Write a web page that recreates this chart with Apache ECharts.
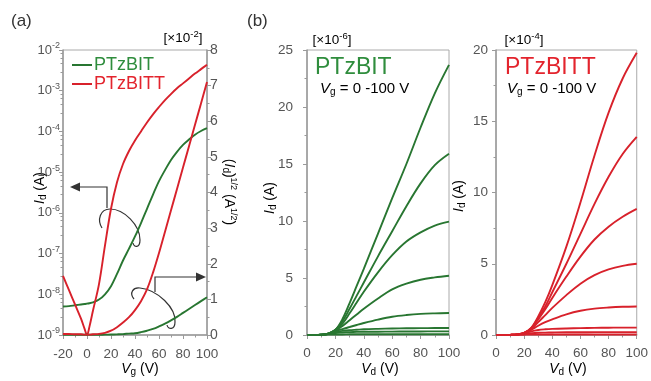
<!DOCTYPE html>
<html><head><meta charset="utf-8">
<script src="https://cdn.jsdelivr.net/npm/echarts@6/dist/echarts.min.js"></script>
<style>html,body{margin:0;padding:0;background:#fff}#c{width:651px;height:381px}</style>
</head><body><div id="c"></div>
<script>
// ---------- data ----------
// Panel (a): transfer curves, Vg in V
const vgA = [-20,-15,-10,-5,-2,0,2,5,10,15,20,25,30,35,40,45,50,55,60,65,70,75,80,85,90,95,100];
// log10(Id) for left (log) axis
const greenLogA = [-8.3,-8.29,-8.27,-8.25,-8.24,-8.23,-8.22,-8.2,-8.13,-8.0,-7.8,-7.5,-7.17,-6.88,-6.58,-6.25,-5.9,-5.55,-5.22,-4.95,-4.7,-4.5,-4.33,-4.2,-4.08,-3.99,-3.92];
const redLogA   = [-7.55,-7.9,-8.25,-8.6,-8.85,-9.0,-8.8,-8.4,-7.75,-6.8,-5.9,-5.25,-4.8,-4.48,-4.22,-4.0,-3.78,-3.58,-3.4,-3.23,-3.08,-2.94,-2.82,-2.7,-2.58,-2.47,-2.36];
// (Id)^1/2 in units of 1e-2 A^1/2 for right axis
const greenSqrtA = [0.005,0.005,0.005,0.005,0.005,0.005,0.005,0.005,0.005,0.01,0.012,0.018,0.026,0.04,0.05,0.08,0.12,0.17,0.24,0.32,0.41,0.51,0.62,0.73,0.84,0.95,1.06];
const redSqrtA   = [0.03,0.03,0.02,0.02,0.01,0.01,0.01,0.02,0.03,0.06,0.12,0.22,0.35,0.5,0.7,0.95,1.28,1.75,2.3,2.9,3.5,4.1,4.7,5.3,5.9,6.5,7.1];
const logTicksA = [-9,-8,-7,-6,-5,-4,-3,-2];

// Panels (b),(c): output curves, Vd in V
const vd = [0,5,10,15,20,25,30,35,40,50,60,70,80,90,100];
// PTzBIT, Id in 1e-6 A
const bitCurves = [
  [0,0,0.02,0.12,0.45,1.4,2.8,4.3,5.8,8.9,12.0,15.0,18.2,21.2,23.7],
  [0,0,0.02,0.12,0.45,1.2,2.3,3.45,4.6,6.9,9.1,11.3,13.3,14.9,15.9],
  [0,0,0.02,0.12,0.45,1.0,1.9,2.85,3.8,5.5,7.0,8.2,9.0,9.6,9.95],
  [0,0,0.02,0.12,0.42,0.8,1.3,1.8,2.3,3.2,4.0,4.5,4.85,5.05,5.2],
  [0,0,0.02,0.11,0.36,0.52,0.7,0.88,1.05,1.35,1.6,1.75,1.85,1.9,1.93],
  [0,0,0.02,0.1,0.28,0.36,0.42,0.46,0.5,0.54,0.57,0.59,0.6,0.61,0.62],
  [0,0,0.02,0.08,0.18,0.22,0.25,0.27,0.28,0.29,0.3,0.31,0.31,0.32,0.32],
  [0,0,0.01,0.03,0.05,0.05,0.06,0.06,0.06,0.06,0.07,0.07,0.07,0.07,0.07]
];
// PTzBITT, Id in 1e-4 A
const bittCurves = [
  [0,0,0.01,0.04,0.15,0.5,1.3,2.3,3.5,6.2,9.3,12.6,15.6,18.0,19.8],
  [0,0,0.01,0.04,0.15,0.48,1.2,2.0,3.0,5.0,7.1,9.2,11.1,12.7,13.9],
  [0,0,0.01,0.04,0.15,0.46,1.1,1.8,2.6,4.1,5.5,6.7,7.6,8.3,8.85],
  [0,0,0.01,0.04,0.14,0.42,0.9,1.4,1.9,2.8,3.6,4.2,4.6,4.85,5.0],
  [0,0,0.01,0.04,0.13,0.36,0.65,0.9,1.1,1.45,1.7,1.85,1.93,1.98,2.0],
  [0,0,0.01,0.03,0.1,0.25,0.35,0.4,0.43,0.46,0.48,0.5,0.51,0.52,0.52],
  [0,0,0.01,0.02,0.06,0.12,0.16,0.17,0.18,0.19,0.19,0.2,0.2,0.2,0.2],
  [0,0,0,0.01,0.02,0.03,0.03,0.03,0.03,0.03,0.03,0.03,0.03,0.03,0.03]
];

// ---------- styles ----------
const FONT = '"Liberation Sans", Arial, sans-serif';
const GREEN = '#2f8d3d', RED = '#e3242d';
const GREEN_L = '#287631', RED_L = '#d8212b';
const AX = '#9a9a9a', LBL = '#555';

function axisBase(extra) {
  return Object.assign({
    axisLine: {show: true, onZero: false, lineStyle: {color: AX, width: 1.5}},
    axisTick: {show: true, length: 4, lineStyle: {color: AX}},
    minorTick: {show: true, splitNumber: 2, length: 2.5, lineStyle: {color: AX}},
    splitLine: {show: false},
    axisLabel: {color: LBL, fontSize: 13, fontFamily: FONT}
  }, extra);
}

const chart = echarts.init(document.getElementById('c'), null, {renderer: 'canvas'});

const grids = [
  {left: 63, top: 50, width: 144, height: 285, show: true, borderColor: '#aaa', borderWidth: 1},
  {left: 307, top: 50, width: 142, height: 285, show: true, borderColor: '#aaa', borderWidth: 1},
  {left: 496, top: 50, width: 145, height: 285, show: true, borderColor: '#aaa', borderWidth: 1}
];

const xAxes = [
  axisBase({type: 'value', gridIndex: 0, min: -20, max: 100, interval: 20,
    axisLabel: {color: LBL, fontSize: 13.5, fontFamily: FONT, margin: 12}}),
  axisBase({type: 'value', gridIndex: 1, min: 0, max: 100, interval: 20,
    axisLabel: {color: LBL, fontSize: 13.5, fontFamily: FONT, margin: 11}}),
  axisBase({type: 'value', gridIndex: 2, min: 0, max: 100, interval: 20,
    axisLabel: {color: LBL, fontSize: 13.5, fontFamily: FONT, margin: 11}})
];

const supRich = {
  b: {fontSize: 13, color: LBL, fontFamily: FONT},
  s: {fontSize: 9, color: LBL, fontFamily: FONT, padding: [0, 0, 8, 0]}
};

const yAxes = [
  axisBase({type: 'log', gridIndex: 0, position: 'left', logBase: 10,
    min: Math.pow(10, logTicksA[0]), max: Math.pow(10, logTicksA[logTicksA.length - 1]), interval: 1,
    minorTick: {show: true, splitNumber: 5, length: 2.5, lineStyle: {color: AX}},
    axisLabel: {margin: 3, formatter: v => '{b|10}{s|' + Math.round(Math.log10(v)) + '}', rich: supRich}}),
  axisBase({type: 'value', gridIndex: 0, position: 'right', min: 0, max: 8, interval: 1,
    axisLabel: {color: LBL, fontSize: 14, fontFamily: FONT, margin: 3}}),
  axisBase({type: 'value', gridIndex: 1, min: 0, max: 25, interval: 5,
    axisLabel: {color: LBL, fontSize: 13.5, fontFamily: FONT, margin: 14}}),
  axisBase({type: 'value', gridIndex: 2, min: 0, max: 20, interval: 5,
    axisLabel: {color: LBL, fontSize: 13.5, fontFamily: FONT, margin: 8}})
];

function lineSeries(name, xi, yi, xs, ys, color, width, transform) {
  return {
    type: 'line', name: name, xAxisIndex: xi, yAxisIndex: yi,
    data: xs.map((x, i) => [x, transform ? transform(ys[i]) : ys[i]]),
    showSymbol: false, smooth: 0.35, silent: true,
    lineStyle: {color: color, width: width}, itemStyle: {color: color}
  };
}

const series = [
  lineSeries('PTzBIT', 0, 0, vgA, greenLogA, GREEN_L, 1.9, e => Math.pow(10, e)),
  lineSeries('PTzBITT', 0, 0, vgA, redLogA, RED_L, 1.9, e => Math.pow(10, e)),
  lineSeries('PTzBIT', 0, 1, vgA, greenSqrtA, GREEN_L, 1.9),
  lineSeries('PTzBITT', 0, 1, vgA, redSqrtA, RED_L, 1.9)
];
bitCurves.forEach((c, k) => series.push(lineSeries('bit' + k, 1, 2, vd, c, GREEN_L, 1.9)));
bittCurves.forEach((c, k) => series.push(lineSeries('bitt' + k, 2, 3, vd, c, RED_L, 1.9)));

const T = (extra) => Object.assign({type: 'text', silent: true}, extra);
const nameRich = {
  i: {fontSize: 14, fontStyle: 'italic', color: '#444', fontFamily: FONT},
  n: {fontSize: 14, color: '#444', fontFamily: FONT},
  sub: {fontSize: 10, color: '#444', fontFamily: FONT, padding: [7, 0, 0, 0]},
  sup: {fontSize: 9, color: '#444', fontFamily: FONT, padding: [0, 0, 8, 0]}
};
function richText(x, y, text, rot, align, rich) {
  return T({x: x, y: y, rotation: rot || 0,
    style: {text: text, rich: rich || nameRich, align: align || 'center', verticalAlign: 'middle', fontFamily: FONT}});
}
const multRich = Object.assign({}, nameRich, {
  n: {fontSize: 13.5, color: '#555', fontFamily: FONT},
  sup: {fontSize: 9.5, color: '#555', fontFamily: FONT, padding: [0, 0, 8, 0]}
});
const vgRich = Object.assign({}, nameRich, {
  i: {fontSize: 15, fontStyle: 'italic', color: '#444', fontFamily: FONT},
  n: {fontSize: 15, color: '#444', fontFamily: FONT}
});
const ann = {stroke: '#333', lineWidth: 1.2, fill: null};

const graphic = [
  T({x: 11, y: 21, style: {text: '(a)', font: '17px ' + FONT, fill: '#333', verticalAlign: 'middle'}}),
  T({x: 247, y: 21, style: {text: '(b)', font: '17px ' + FONT, fill: '#333', verticalAlign: 'middle'}}),
  richText(183, 38, '{n|[×10}{sup|-2}{n|]}', 0, 'center', multRich),
  richText(332, 40, '{n|[×10}{sup|-6}{n|]}', 0, 'center', multRich),
  richText(524, 40, '{n|[×10}{sup|-4}{n|]}', 0, 'center', multRich),
  // axis names
  richText(40, 188, '{i|I}{sub|d}{n| (A)}', Math.PI / 2),
  richText(229, 192, '{n|(}{i|I}{sub|d}{n|)}{sup|1/2}{n| (A}{sup|1/2}{n|)}', -Math.PI / 2),
  richText(140, 369, '{i|V}{sub|g}{n| (V)}', 0),
  richText(270, 198, '{i|I}{sub|d}{n| (A)}', Math.PI / 2),
  richText(380, 369, '{i|V}{sub|d}{n| (V)}', 0),
  richText(459, 196, '{i|I}{sub|d}{n| (A)}', Math.PI / 2),
  richText(568, 369, '{i|V}{sub|d}{n| (V)}', 0),
  // panel labels
  T({x: 315, y: 68, style: {text: 'PTzBIT', font: '23px ' + FONT, fill: GREEN, verticalAlign: 'middle'}}),
  T({x: 505, y: 68, style: {text: 'PTzBITT', font: '23px ' + FONT, fill: RED, verticalAlign: 'middle'}}),
  richText(320, 89, '{i|V}{sub|g}{n| = 0 -100 V}', 0, 'left', vgRich),
  richText(507, 89, '{i|V}{sub|g}{n| = 0 -100 V}', 0, 'left', vgRich),
  // annotation: arrow to left axis
  {type: 'polyline', silent: true, shape: {points: [[107, 208], [107, 187], [79, 187]]}, style: ann},
  {type: 'polygon', silent: true, shape: {points: [[70, 187], [80, 182.5], [80, 191.5]]}, style: {fill: '#333'}},
  {type: 'bezierCurve', silent: true, shape: {x1: 102, y1: 228, cpx1: 97, cpy1: 220, cpx2: 100, cpy2: 209, x2: 110, y2: 209}, style: ann},
  {type: 'bezierCurve', silent: true, shape: {x1: 110, y1: 209, cpx1: 124, cpy1: 209, cpx2: 140, cpy2: 225, x2: 140, y2: 240}, style: ann},
  {type: 'bezierCurve', silent: true, shape: {x1: 140, y1: 240, cpx1: 140, cpy1: 248, cpx2: 134, cpy2: 248, x2: 133, y2: 243}, style: ann},
  // annotation: arrow to right axis
  {type: 'polyline', silent: true, shape: {points: [[155, 292], [155, 277], [197, 277]]}, style: ann},
  {type: 'polygon', silent: true, shape: {points: [[206, 277], [196, 272.5], [196, 281.5]]}, style: {fill: '#333'}},
  {type: 'bezierCurve', silent: true, shape: {x1: 134, y1: 299, cpx1: 129, cpy1: 293, cpx2: 133, cpy2: 287, x2: 140, y2: 288}, style: ann},
  {type: 'bezierCurve', silent: true, shape: {x1: 140, y1: 288, cpx1: 158, cpy1: 290, cpx2: 176, cpy2: 308, x2: 175, y2: 322}, style: ann},
  {type: 'bezierCurve', silent: true, shape: {x1: 175, y1: 322, cpx1: 175, cpy1: 330, cpx2: 168, cpy2: 330, x2: 167, y2: 325}, style: ann}
];

chart.setOption({
  animation: false,
  backgroundColor: '#fff',
  textStyle: {fontFamily: FONT},
  grid: grids,
  xAxis: xAxes,
  yAxis: yAxes,
  legend: {
    data: [{name: 'PTzBIT', textStyle: {color: GREEN}}, {name: 'PTzBITT', textStyle: {color: RED}}],
    orient: 'vertical', left: 67, top: 51, itemWidth: 20, itemHeight: 2, itemGap: 1,
    icon: 'rect', selectedMode: false,
    textStyle: {fontSize: 18, fontFamily: FONT, padding: [0, 0, 0, -3]}
  },
  series: series,
  graphic: graphic
});
</script>
</body></html>
